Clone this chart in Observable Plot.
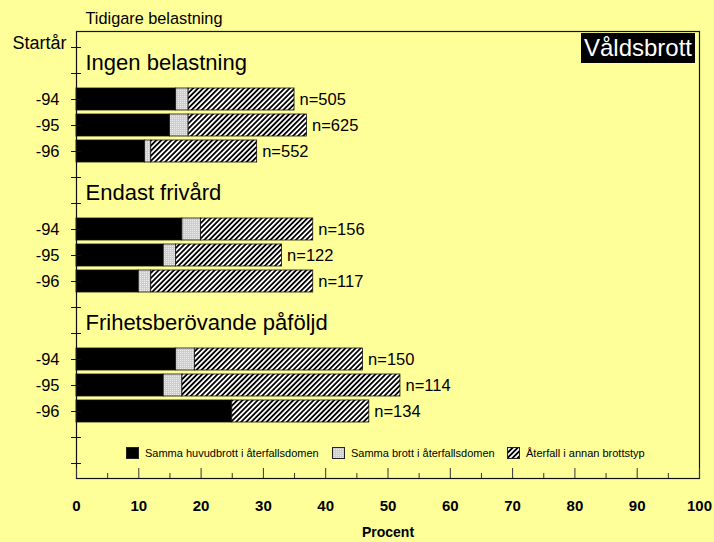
<!DOCTYPE html>
<html><head><meta charset="utf-8">
<script src="https://cdn.jsdelivr.net/npm/d3@7"></script>
<script src="https://cdn.jsdelivr.net/npm/@observablehq/plot@0.6"></script>
<style>
html,body{margin:0;padding:0;background:#ffff99;}
#wrap{position:relative;width:714px;height:542px;font-family:"Liberation Sans",Arial,sans-serif;}
#badge{position:absolute;left:581px;top:33px;width:114px;height:30px;background:#000;color:#fff;font-size:24px;line-height:30px;text-align:center;}
.leg{position:absolute;top:446px;height:14px;font-size:11px;line-height:14px;display:flex;align-items:center;color:#000;white-space:nowrap;}
.leg svg{margin-right:6px;display:block;}
</style></head><body><div id="wrap"></div>
<script>
// ---- data ----
const groups = ["Ingen belastning", "Endast frivård", "Frihetsberövande påföljd"];
const years = ["-94", "-95", "-96"];
const sammaHuvudbrott = [[16, 15, 11], [17, 14, 10], [16, 14, 25]];
const sammaBrott = [[2, 3, 1], [3, 2, 2], [3, 3, 0]];
const annanBrottstyp = [[17, 19, 17], [18, 17, 26], [27, 35, 22]];
const nValues = [[505, 625, 552], [156, 122, 117], [150, 114, 134]];
const seriesNames = ["Samma huvudbrott i återfallsdomen", "Samma brott i återfallsdomen", "Återfall i annan brottstyp"];
const xTicks = [0, 10, 20, 30, 40, 50, 60, 70, 80, 90, 100];
const minorTicks = [5, 15, 25, 35, 45, 55, 65, 75, 85, 95];
const rowLabel = "Startår";
const xLabel = "Procent";
const topLabel = "Tidigare belastning";
const badgeText = "Våldsbrott";

// ---- build table ----
const rows = [];
const tickLabels = new Map();
const data = [];
const totals = [];
const headers = [];
const seriesValues = [sammaHuvudbrott, sammaBrott, annanBrottstyp];
groups.forEach((g, gi) => {
  rows.push(`g${gi}-a`, `g${gi}-b`);
  headers.push({name: g, row: `g${gi}-a`});
  years.forEach((y, yi) => {
    const key = `g${gi}:${y}`;
    rows.push(key);
    tickLabels.set(key, y);
    let sum = 0;
    seriesNames.forEach((s, si) => {
      const v = seriesValues[si][gi][yi];
      sum += v;
      if (v > 0) data.push({row: key, series: s, value: v});
    });
    totals.push({row: key, total: sum, n: "n=" + nValues[gi][yi]});
  });
});
rows.push("end-a", "end-b");

function makeDefs(doc, prefix) {
  const defs = d3.select(doc.createElementNS("http://www.w3.org/2000/svg", "defs"));
  const h = defs.append("pattern").attr("id", prefix + "Hatch").attr("patternUnits", "userSpaceOnUse")
    .attr("width", 3.6).attr("height", 3.6).attr("patternTransform", "rotate(45)");
  h.append("rect").attr("width", 3.6).attr("height", 3.6).attr("fill", "#fff");
  h.append("rect").attr("width", 1.8).attr("height", 3.6).attr("fill", "#000");
  const gr = defs.append("pattern").attr("id", prefix + "Grey").attr("patternUnits", "userSpaceOnUse")
    .attr("width", 2).attr("height", 2);
  gr.append("rect").attr("width", 2).attr("height", 2).attr("fill", "#cdcdcd");
  gr.append("rect").attr("width", 1).attr("height", 1).attr("fill", "#eeeeee");
  return defs.node();
}

const font = '"Liberation Sans", Arial, sans-serif';
const chart = Plot.plot({
  width: 714, height: 542,
  marginLeft: 76, marginRight: 15, marginTop: 31, marginBottom: 64,
  style: {background: "#ffff99", fontFamily: font, color: "#000", overflow: "visible"},
  x: {domain: [0, 100], label: null},
  y: {domain: rows, paddingInner: 0.16, paddingOuter: 0.08, label: null},
  color: {type: "ordinal", domain: seriesNames, range: ["#000", "url(#pGrey)", "url(#pHatch)"]},
  marks: [
    () => makeDefs(document, "p"),
    Plot.barX(data, {x: "value", y: "row", fill: "series", stroke: "#111", strokeWidth: 0.8}),
    Plot.frame({stroke: "#111", strokeWidth: 1.2}),
    Plot.axisY({tickSize: 10, dx: 5, stroke: "#111", tickFormat: () => ""}),
    Plot.axisY({tickSize: 0, tickPadding: 17, fontSize: 16.5, tickFormat: k => tickLabels.get(k) ?? ""}),
    Plot.axisX(xTicks, {tickSize: 10, dy: -10, stroke: "#333", tickFormat: () => ""}),
    Plot.axisX(minorTicks, {tickSize: 5, dy: -5, stroke: "#333", tickFormat: () => ""}),
    Plot.axisX(xTicks, {tickSize: 0, tickPadding: 21.5, fontSize: 15, fontWeight: "bold"}),
    Plot.text(totals, {x: "total", y: "row", text: "n", dx: 5, textAnchor: "start", fontSize: 16.5}),
    Plot.text(headers, {y: "row", text: "name", frameAnchor: "left", dx: 9, dy: 15, textAnchor: "start", fontSize: 22}),
    Plot.text([rowLabel], {y: () => "g0-a", text: d => d, frameAnchor: "left", dx: -10, dy: -4, textAnchor: "end", fontSize: 18}),
    Plot.text([topLabel], {text: d => d, frameAnchor: "top-left", lineAnchor: "middle", dx: 9, dy: -13, textAnchor: "start", fontSize: 16.3}),
    Plot.text([xLabel], {text: d => d, frameAnchor: "bottom", lineAnchor: "middle", dy: 54, fontSize: 14, fontWeight: "bold"})
  ]
});
const wrap = document.getElementById("wrap");
wrap.appendChild(chart);

// badge
const badge = document.createElement("div");
badge.id = "badge";
badge.textContent = badgeText;
wrap.appendChild(badge);

// legend
const legSvg = document.createElementNS("http://www.w3.org/2000/svg", "svg");
legSvg.setAttribute("width", 0); legSvg.setAttribute("height", 0);
legSvg.style.position = "absolute";
legSvg.appendChild(makeDefs(document, "l"));
wrap.appendChild(legSvg);
const legFills = ["#000", "url(#lGrey)", "url(#lHatch)"];
const legLeft = [126, 332, 507];
seriesNames.forEach((s, i) => {
  const item = document.createElement("div");
  item.className = "leg";
  item.style.left = legLeft[i] + "px";
  const sw = d3.create("svg").attr("width", 13).attr("height", 12);
  sw.append("rect").attr("x", 0.5).attr("y", 0.5).attr("width", 12).attr("height", 11)
    .attr("fill", legFills[i]).attr("stroke", "#222").attr("stroke-width", 1);
  item.appendChild(sw.node());
  const t = document.createElement("span");
  t.textContent = s;
  item.appendChild(t);
  wrap.appendChild(item);
});
</script>
</body></html>
